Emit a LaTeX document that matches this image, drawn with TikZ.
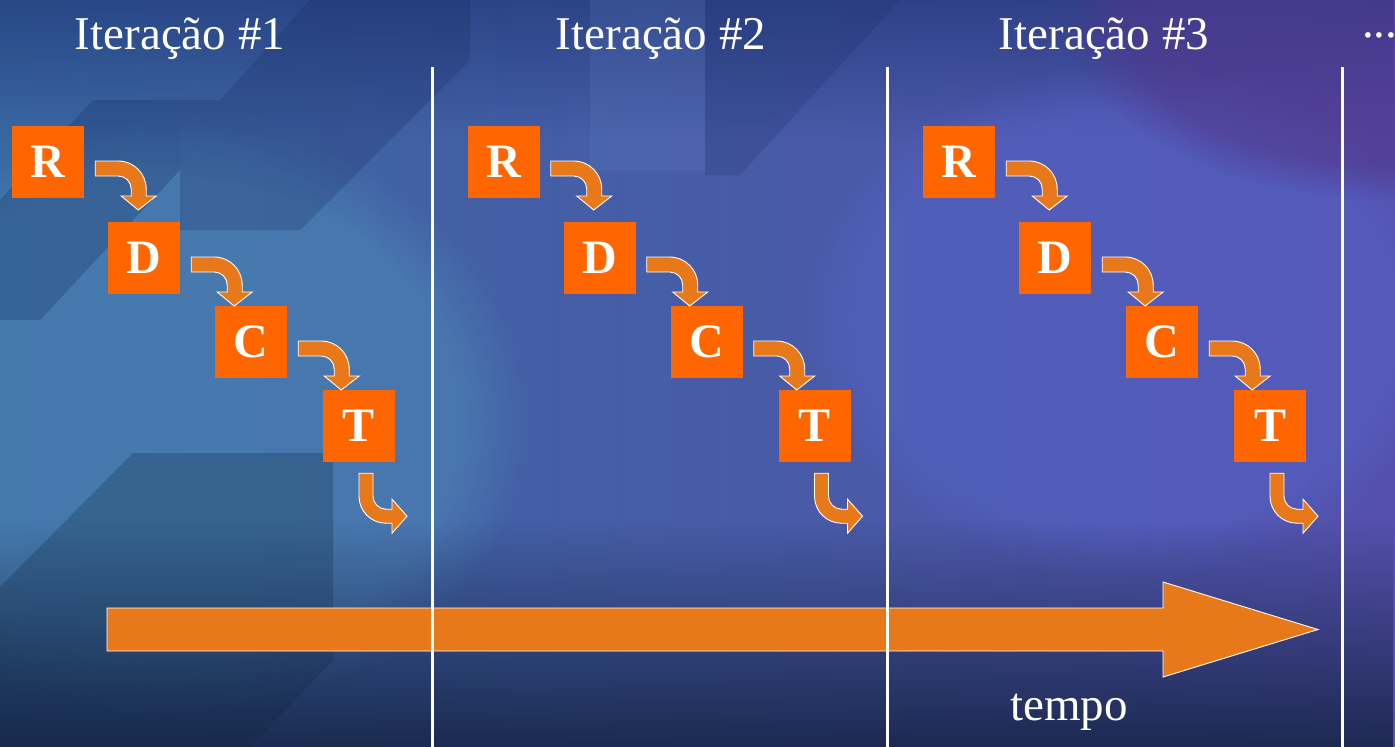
\documentclass[tikz,border=0pt]{standalone}
\usepackage{fontspec}
\setmainfont{Liberation Serif}
\usetikzlibrary{fadings,calc}

\definecolor{boxorange}{HTML}{FF6600}
\definecolor{arroworange}{HTML}{E8791A}
\definecolor{bgleft}{HTML}{3A68A2}
\definecolor{bgmid}{HTML}{3553A2}
\definecolor{bgright}{HTML}{5450AC}

\tikzset{
  stepbox/.style={fill=boxorange, minimum size=72pt, inner sep=0pt, text=white,
    font=\fontsize{48}{48}\selectfont\bfseries},
  bendarrow/.style={fill=arroworange, draw=white, line width=0.9pt, line join=miter},
  heading/.style={text=white, font=\fontsize{47}{50}\selectfont, anchor=base, inner sep=0pt},
  divider/.style={draw=white, line width=3pt},
  turn down/.pic={
    \path[bendarrow] (11,-1) -- (34,-1) .. controls (49.5,-1) and (62,11.5) .. (62,27)
      -- (62,34) -- (72,34) -- (54,48) -- (37,34) -- (47,34) -- (47,27)
      .. controls (47,19.8) and (41.2,14) .. (34,14) -- (11,14) -- cycle;
  },
  turn right/.pic={
    \path[bendarrow] (0,11) -- (14,11) -- (14,34) .. controls (14,41) and (19.8,47) .. (27,47)
      -- (33,47) -- (33,37) -- (48,54) -- (33,71) -- (33,61) -- (27,61)
      .. controls (12,61) and (0,49) .. (0,34) -- cycle;
  },
}

\begin{document}
\begin{tikzpicture}[x=1pt, y=-1pt]
\useasboundingbox (0,0) rectangle (1395,747);

% backdrop
\begin{scope}
  \clip (0,0) rectangle (1395,747);
  \shade[left color=bgleft, middle color=bgmid, right color=bgright] (0,0) rectangle (1395,747);
  % darker sky at the top
  \fill[color={rgb,255:red,28;green,50;blue,115}, opacity=0.6, path fading=south]
    (0,0) rectangle (1395,140);
  % soft light on the left and centre right
  \fill[color={rgb,255:red,80;green,140;blue,185}, opacity=0.5,
        path fading=circle with fuzzy edge 20 percent] (170,420) ellipse (360 and 300);
  \fill[color={rgb,255:red,88;green,105;blue,210}, opacity=0.4,
        path fading=circle with fuzzy edge 20 percent] (1130,320) ellipse (330 and 260);
  \fill[color={rgb,255:red,82;green,55;blue,140}, opacity=0.6,
        path fading=circle with fuzzy edge 20 percent] (1395,20) ellipse (330 and 180);
  % building shapes
  \fill[color={rgb,255:red,25;green,50;blue,105}, opacity=0.3]
    (93,100) -- (180,100) -- (180,170) -- (40,320) -- (0,320) -- (0,200) -- cycle;
  \fill[color={rgb,255:red,25;green,45;blue,100}, opacity=0.25]
    (310,0) -- (470,0) -- (470,60) -- (300,230) -- (180,230) -- (180,100) -- (220,100) -- cycle;
  \fill[color={rgb,255:red,110;green,140;blue,205}, opacity=0.16]
    (590,0) -- (705,0) -- (705,170) -- (590,170) -- cycle;
  \fill[color={rgb,255:red,30;green,50;blue,110}, opacity=0.25]
    (705,0) -- (900,0) -- (740,175) -- (705,175) -- cycle;
  \fill[color={rgb,255:red,25;green,60;blue,90}, opacity=0.35]
    (133,453) -- (333,453) -- (333,660) -- (250,747) -- (0,747) -- (0,587) -- cycle;
  % darker ground
  \fill[color={rgb,255:red,20;green,34;blue,66}, opacity=0.85, path fading=north]
    (0,520) rectangle (1395,747);
\end{scope}

% iteration headings
\node[heading] (h1) at (180,49) {Iteração \#1};
\node[heading] (h2) at (661,49) {Iteração \#2};
\node[heading] (h3) at (1104,49) {Iteração \#3};
\node[heading, anchor=base west] (more) at (1362,37) {...};

% R -> D -> C -> T in each iteration
\foreach \i in {0,1,2} {
  \pgfmathsetmacro\dx{455.5*\i}
  \node[stepbox] (R\i) at (48+\dx,162) {R};
  \node[stepbox] (D\i) at (144+\dx,258) {D};
  \node[stepbox] (C\i) at (251+\dx,342) {C};
  \node[stepbox] (T\i) at (359+\dx,426) {T};
  \pic at (R\i.east) {turn down};
  \pic at (D\i.east) {turn down};
  \pic at (C\i.east) {turn down};
  \pic at (T\i.south) {turn right};
}

% time axis
\coordinate (tstart) at (107,629.5);
\coordinate (ttip) at (1318,629.5);
\path[bendarrow] ($(tstart)+(0,-21.5)$) -- ($(tstart)+(1056,-21.5)$) -- ($(tstart)+(1056,-47.5)$)
  -- (ttip) -- ($(tstart)+(1056,47.5)$) -- ($(tstart)+(1056,21.5)$) -- ($(tstart)+(0,21.5)$) -- cycle;
\node[heading] (tempo) at (1069,720) {tempo};

% iteration boundaries
\foreach \x [count=\n] in {432,887,1342} {
  \coordinate (top\n) at (\x,67);
  \coordinate (bot\n) at (\x,747);
  \draw[divider] (top\n) -- (bot\n);
}
\end{tikzpicture}
\end{document}
